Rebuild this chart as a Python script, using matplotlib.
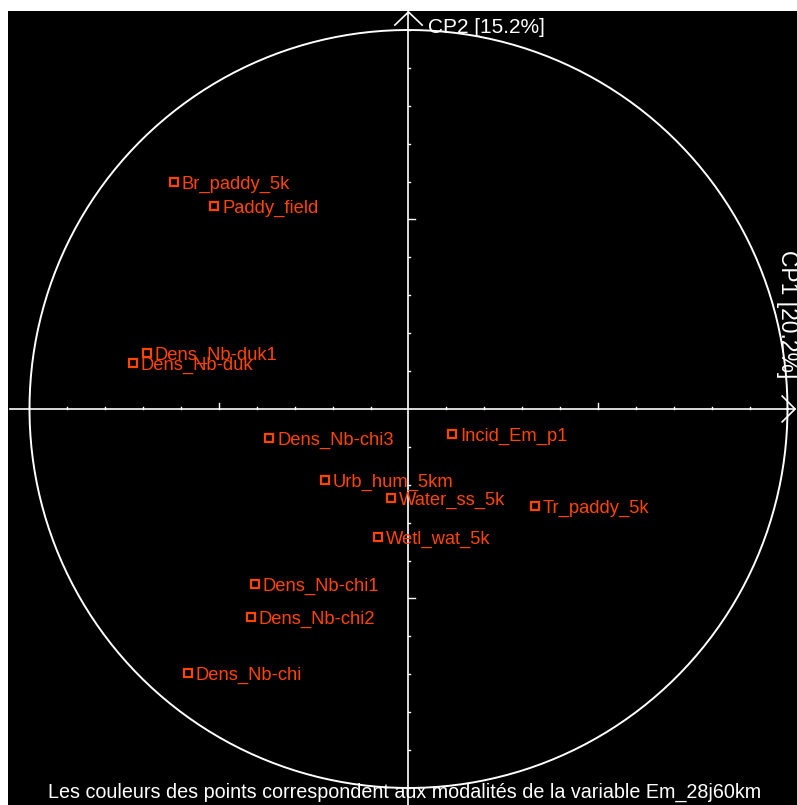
import numpy as np
import matplotlib
matplotlib.use("Agg")
import matplotlib.pyplot as plt

plt.rcParams['font.family'] = ['Liberation Sans', 'DejaVu Sans']

# Coordonnees des variables sur le plan factoriel (CP1, CP2)
noms = ['Br_paddy_5k', 'Paddy_field', 'Dens_Nb-duk1', 'Dens_Nb-duk',
        'Dens_Nb-chi3', 'Incid_Em_p1', 'Urb_hum_5km', 'Water_ss_5k',
        'Tr_paddy_5k', 'Wetl_wat_5k', 'Dens_Nb-chi1', 'Dens_Nb-chi2',
        'Dens_Nb-chi']
cp1 = [-0.619, -0.513, -0.690, -0.727, -0.368, 0.115, -0.220, -0.046,
       0.334, -0.080, -0.405, -0.416, -0.582]
cp2 = [0.599, 0.536, 0.148, 0.121, -0.077, -0.066, -0.187, -0.235,
       -0.256, -0.338, -0.462, -0.549, -0.697]

label_cp1 = 'CP1 [20.2%]'
label_cp2 = 'CP2 [15.2%]'
legende = 'Les couleurs des points correspondent aux modalités de la variable Em_28j60km'

orange = '#ff4500'
W, H = 797, 805

fig = plt.figure(figsize=(W / 100, H / 100), dpi=100, facecolor='white')
ax = fig.add_axes([8 / W, 0, 789 / W, 794 / H])
ax.set_facecolor('black')
ax.set_xlim(-1.0567, 1.0251)
ax.set_ylim(-1.0449, 1.0501)
ax.set_xticks([])
ax.set_yticks([])
for s in ax.spines.values():
    s.set_visible(False)

# Cercle des correlations
t = np.linspace(0, 2 * np.pi, 400)
ax.plot(np.cos(t), np.sin(t), color='white', lw=1.4)

# Axes avec fleches
ax.plot([-1.051, 1.020], [0, 0], color='white', lw=1.2)
ax.plot([0, 0], [-1.1, 1.0475], color='white', lw=1.2)
ax.plot([-0.036, 0, 0.036], [1.013, 1.0475, 1.013], color='white', lw=1.2)
ax.plot([0.986, 1.020, 0.986], [0.034, 0, -0.034], color='white', lw=1.2)

# Graduations
for v in np.arange(-1.0, 1.01, 0.1):
    if abs(v) < 1e-9:
        continue
    majeur = abs(abs(v) - 0.5) < 1e-9
    lx = 0.016 if majeur else 0.005
    ax.plot([v, v], [0, lx], color='white', lw=1.0)
    ax.plot([0, lx], [v, v], color='white', lw=1.0)

# Points et etiquettes
ax.plot(cp1, cp2, 's', ms=5.5, mfc='none', mec=orange, mew=1.6, ls='none')
for nom, x, y in zip(noms, cp1, cp2):
    ax.annotate(nom, (x, y), xytext=(8, -6.5), textcoords='offset pixels',
                color=orange, fontsize=13.2, ha='left', va='baseline')

# Titres des axes
fig.text(428 / W, 1 - 33 / H, label_cp2, color='white', fontsize=15,
         ha='left', va='baseline')
fig.text(781 / W, 1 - 250 / H, label_cp1, color='white', fontsize=16.5,
         ha='left', va='baseline', rotation=-90, rotation_mode='anchor')

fig.text(405 / W, 1 - 798 / H, legende, color='white', fontsize=14.2,
         ha='center', va='baseline')

fig.savefig('out.png', dpi=100, facecolor='white')
